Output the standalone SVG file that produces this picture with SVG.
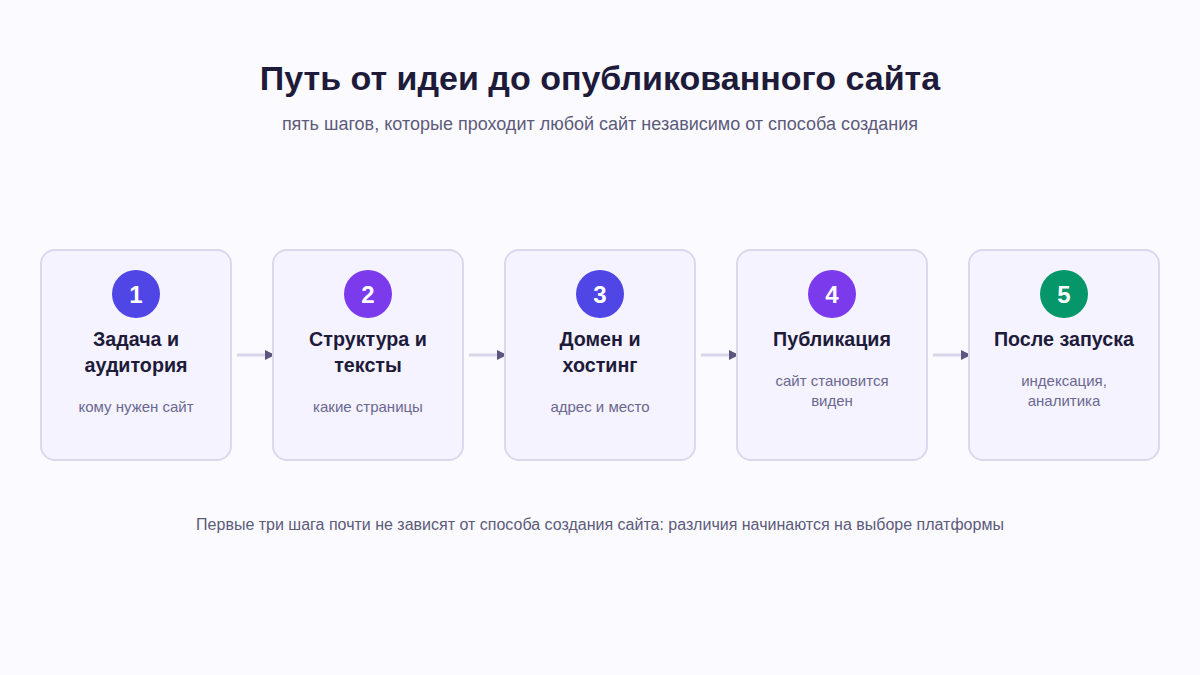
<svg xmlns="http://www.w3.org/2000/svg" width="1200" height="675" viewBox="0 0 1200 675">
<style>
.bg{fill:#fafaff}
.box{fill:#f5f3ff;stroke:#dcd8ee;stroke-width:2}
.num{font-family:"Liberation Sans",Arial,sans-serif;font-size:24px;font-weight:bold;fill:#fff;text-anchor:middle}
.ttl{font-family:"Liberation Sans",Arial,sans-serif;font-size:19.7px;font-weight:bold;fill:#1e1b3a;text-anchor:middle}
.dsc{font-family:"Liberation Sans",Arial,sans-serif;font-size:15px;fill:#6b6890;text-anchor:middle}
.conn{stroke:#d8d5ea;stroke-width:3;fill:none}
</style>
<defs>
<marker id="ah" viewBox="0 0 10 10" refX="8" refY="5" markerWidth="10" markerHeight="10" markerUnits="userSpaceOnUse" orient="auto">
<path d="M0,0 L10,5 L0,10 z" fill="#5a5680"/>
</marker>
</defs>
<rect class="bg" x="0" y="0" width="1200" height="675"/>
<text x="600" y="90" font-family="'Liberation Sans',Arial,sans-serif" font-size="34" font-weight="bold" fill="#1e1b3a" text-anchor="middle">Путь от идеи до опубликованного сайта</text>
<text x="600" y="130" font-family="'Liberation Sans',Arial,sans-serif" font-size="18" fill="#5d5a7a" text-anchor="middle">пять шагов, которые проходит любой сайт независимо от способа создания</text>
<g id="connectors">
<line class="conn" x1="237" y1="355" x2="273" y2="355" marker-end="url(#ah)"/>
<line class="conn" x1="469" y1="355" x2="505" y2="355" marker-end="url(#ah)"/>
<line class="conn" x1="701" y1="355" x2="737" y2="355" marker-end="url(#ah)"/>
<line class="conn" x1="933" y1="355" x2="969" y2="355" marker-end="url(#ah)"/>
</g>
<g id="step1">
<rect class="box" x="41" y="250" width="190" height="210" rx="14"/>
<circle cx="136" cy="294" r="24" fill="#4f46e5"/>
<text class="num" x="136" y="302.5">1</text>
<text class="ttl" x="136" y="346">Задача и</text>
<text class="ttl" x="136" y="372">аудитория</text>
<text class="dsc" x="136" y="412">кому нужен сайт</text>
</g>
<g id="step2">
<rect class="box" x="273" y="250" width="190" height="210" rx="14"/>
<circle cx="368" cy="294" r="24" fill="#7c3aed"/>
<text class="num" x="368" y="302.5">2</text>
<text class="ttl" x="368" y="346">Структура и</text>
<text class="ttl" x="368" y="372">тексты</text>
<text class="dsc" x="368" y="412">какие страницы</text>
</g>
<g id="step3">
<rect class="box" x="505" y="250" width="190" height="210" rx="14"/>
<circle cx="600" cy="294" r="24" fill="#4f46e5"/>
<text class="num" x="600" y="302.5">3</text>
<text class="ttl" x="600" y="346">Домен и</text>
<text class="ttl" x="600" y="372">хостинг</text>
<text class="dsc" x="600" y="412">адрес и место</text>
</g>
<g id="step4">
<rect class="box" x="737" y="250" width="190" height="210" rx="14"/>
<circle cx="832" cy="294" r="24" fill="#7c3aed"/>
<text class="num" x="832" y="302.5">4</text>
<text class="ttl" x="832" y="346">Публикация</text>
<text class="dsc" x="832" y="386">сайт становится</text>
<text class="dsc" x="832" y="406">виден</text>
</g>
<g id="step5">
<rect class="box" x="969" y="250" width="190" height="210" rx="14"/>
<circle cx="1064" cy="294" r="24" fill="#059669"/>
<text class="num" x="1064" y="302.5">5</text>
<text class="ttl" x="1064" y="346">После запуска</text>
<text class="dsc" x="1064" y="386">индексация,</text>
<text class="dsc" x="1064" y="406">аналитика</text>
</g>
<text x="600" y="530" font-family="'Liberation Sans',Arial,sans-serif" font-size="16" fill="#5d5a7a" text-anchor="middle">Первые три шага почти не зависят от способа создания сайта: различия начинаются на выборе платформы</text>
</svg>
